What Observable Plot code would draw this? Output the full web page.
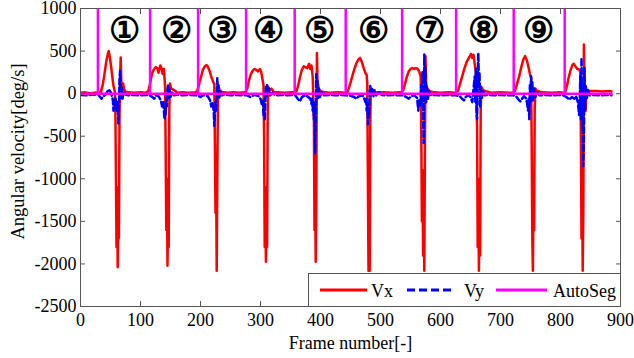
<!DOCTYPE html>
<html><head><meta charset="utf-8">
<script src="https://cdn.jsdelivr.net/npm/d3@7"></script>
<script src="https://cdn.jsdelivr.net/npm/@observablehq/plot@0.6"></script>
<style>
body{margin:0;background:#fff;}
#wrap{position:relative;width:634px;height:358px;overflow:hidden;}
#wrap svg text{font-family:'Liberation Serif',serif;}
#legend{position:absolute;left:308px;top:273px;width:312px;height:33px;border-left:1px solid #555;border-top:1px solid #555;background:#fff;box-sizing:border-box;}
#legend text{font-family:'Liberation Serif',serif;font-size:18px;fill:#000;}
</style></head><body><div id="wrap"></div>
<script>
// ---- data (frame, value) ----
const vx = [
[0,10],[8,15],[16,5],[24,12],[30,10],[34,20],[37,100],[40,230],[43,380],[46,480],[47,500],[49,420],[51,320],[53,200],[55,90],[57,30],[58,-100],[59,-900],[60,-1800],[61,-1100],[62,-2040],[63,-1400],[64,-1700],[65,-300],[66,200],[67,424],[68,150],[69,60],[71,120],[73,40],[76,20],[80,15],[90,10],[100,15],[108,10],
[113,30],[116,120],[119,230],[122,280],[125,310],[128,300],[130,245],[133,330],[135,300],[137,230],[139,290],[141,80],[142,-700],[143,-1600],[144,-1000],[145,-2020],[146,-1400],[147,-1800],[148,-200],[149,120],[151,60],[154,50],[158,30],[162,10],[170,15],[180,10],[190,12],
[192,15],[195,40],[198,120],[201,200],[204,280],[207,320],[210,335],[212,320],[215,270],[218,200],[221,140],[223,110],[224,-600],[225,-1400],[226,-900],[227,-2080],[228,-1000],[229,-100],[230,80],[232,40],[236,20],[245,10],[255,15],[265,10],[272,15],
[275,20],[278,60],[281,160],[284,230],[287,270],[290,290],[293,280],[296,260],[299,290],[301,260],[303,180],[305,100],[306,-500],[307,-1800],[308,-1100],[309,-1975],[310,-1500],[311,-1800],[312,-200],[313,80],[315,40],[318,60],[322,20],[330,15],[340,10],[352,15],
[356,15],[360,30],[363,100],[366,200],[369,280],[372,320],[375,310],[378,300],[381,350],[383,290],[385,330],[387,200],[389,-300],[390,-1600],[391,-1000],[392,-1975],[393,-1200],[394,478],[395,150],[397,60],[400,30],[405,20],[415,10],[430,15],[440,10],
[445,20],[448,80],[452,180],[456,280],[460,360],[463,400],[466,420],[469,370],[472,300],[475,240],[477,220],[478,100],[479,-1000],[480,-2080],[481,-1600],[482,-2080],[483,-300],[484,60],[486,40],[489,20],[495,10],[505,15],[520,10],[530,15],
[534,15],[538,40],[541,120],[544,200],[547,260],[550,290],[553,300],[556,290],[559,300],[562,290],[565,250],[567,200],[568,-500],[569,-1500],[570,-900],[571,-1900],[572,-1300],[573,-2080],[574,-700],[575,440],[576,120],[578,60],[582,30],[590,15],[600,10],[615,15],[623,10],
[629,30],[632,100],[636,200],[640,300],[644,380],[648,430],[651,466],[653,420],[655,455],[657,350],[659,250],[661,-400],[662,-1800],[663,-1000],[664,-2080],[665,-1400],[666,-1900],[667,-200],[668,80],[671,40],[675,30],[685,10],[700,15],[715,10],
[720,10],[724,30],[727,100],[731,200],[735,320],[738,400],[741,440],[744,390],[747,300],[749,230],[751,185],[752,-600],[753,-1700],[754,-2080],[755,-1200],[756,-1600],[757,-200],[758,60],[761,30],[770,15],[785,10],[800,15],[805,10],
[808,20],[811,100],[814,200],[817,280],[820,340],[822,350],[825,320],[828,290],[831,285],[833,250],[834,-500],[835,-1700],[836,-1000],[837,-2080],[838,-1400],[839,576],[840,100],[842,-200],[843,50],[846,30],[850,30],[860,30],[870,25],[880,30],[885,25]
];
const vy = [
[0,-15],[10,-20],[20,-10],[30,-15],[35,-60],[38,-30],[42,-10],[47,50],[50,20],[52,-20],[54,-80],[55,-200],[56,-100],[57,-150],[58,-40],[59,-100],[60,-200],[61,-100],[62,-150],[63,-350],[64,-120],[65,150],[66,270],[67,100],[68,-50],[69,80],[70,-60],[72,20],[75,-10],[80,-20],[90,-15],[100,-20],[110,-15],
[115,-20],[120,-40],[123,-60],[126,-20],[130,-30],[134,-80],[136,-150],[138,-100],[140,-300],[141,-180],[142,-250],[143,-60],[144,-150],[145,50],[146,100],[147,-50],[148,60],[150,-40],[153,20],[156,-20],[162,-10],[170,-20],[180,-15],[190,-20],
[195,-20],[200,-40],[205,-15],[212,-30],[216,-80],[218,-150],[220,-100],[222,-200],[223,-380],[224,-250],[225,-100],[226,-200],[227,0],[228,180],[229,50],[230,100],[231,-60],[233,40],[235,-20],[240,-10],[250,-20],[260,-15],[270,-20],
[278,-20],[283,-40],[290,-15],[297,-30],[300,-60],[302,-120],[304,-80],[305,-250],[306,-150],[307,-300],[308,-100],[309,80],[310,-50],[311,100],[312,30],[314,60],[316,-20],[320,10],[325,-20],[335,-15],[345,-20],[355,-15],
[358,-20],[362,-60],[366,-90],[369,-40],[374,-20],[378,-30],[383,-60],[385,-120],[386,-50],[387,-200],[388,-100],[389,-300],[390,-150],[391,-700],[392,-300],[393,230],[394,100],[395,150],[396,-50],[397,60],[399,-40],[402,20],[406,-20],[415,-15],[425,-20],[435,-15],
[442,-20],[450,-25],[456,-40],[460,-60],[464,-30],[470,-20],[473,-60],[475,-100],[476,-50],[477,-200],[478,-120],[479,-360],[480,-200],[481,-280],[482,60],[483,90],[484,-20],[486,60],[488,-40],[490,40],[493,-20],[497,30],[502,-15],[510,-20],[520,-15],[532,-20],
[538,-20],[543,-40],[547,-60],[551,-30],[556,-20],[561,-50],[563,-200],[564,-80],[566,-150],[567,-40],[568,100],[569,-100],[570,250],[571,-300],[572,-580],[573,460],[574,150],[575,300],[576,-100],[577,80],[579,-60],[581,30],[584,-20],[590,-15],[600,-20],[610,-15],[622,-20],
[626,-20],[632,-30],[636,-60],[639,-80],[642,-40],[646,-20],[650,-40],[653,-100],[655,50],[657,200],[658,-100],[659,300],[660,-200],[661,-300],[662,150],[663,478],[664,100],[665,250],[666,-150],[667,80],[669,-50],[671,40],[674,-20],[680,-15],[690,-20],[700,-15],[712,-20],
[722,-20],[727,-40],[730,-70],[733,-90],[736,-60],[739,-30],[742,-50],[744,-100],[746,-200],[747,-60],[748,-300],[749,100],[750,-100],[751,205],[752,40],[753,150],[754,-80],[756,60],[758,-40],[761,20],[765,-20],[775,-15],[785,-20],[795,-15],[805,-20],
[810,-40],[815,-70],[819,-40],[823,-60],[826,-30],[829,-100],[831,-250],[832,-100],[833,200],[834,-300],[835,420],[836,-400],[837,100],[838,-850],[839,-500],[840,300],[841,-200],[842,100],[844,-50],[846,40],[849,-20],[855,-15],[865,-20],[875,-15],[885,-20]
];
const segFrames = [29, 116, 196, 276, 357, 442, 536, 626, 722, 807];
const segPeak = 1000;
const lastFrame = 885;
const labelText = ["①","②","③","④","⑤","⑥","⑦","⑧","⑨"];
const labelFrame = [73, 160, 236, 313, 398, 488, 581, 671, 763];
const labelValue = 740;
const xTicks = [0,100,200,300,400,500,600,700,800,900];
const yTicks = [-2500,-2000,-1500,-1000,-500,0,500,1000];

// ---- build ----
const autoSeg = [[0,0]];
segFrames.forEach(f => autoSeg.push([f,0],[f,segPeak],[f,0]));
autoSeg.push([lastFrame,0]);
const labels = labelText.map((t,i) => ({t, f: labelFrame[i], v: labelValue}));

const axisCol = "#555";
const serif = "'Liberation Serif', serif";
const fmt = d => String(d);
const chart = Plot.plot({
  width: 634, height: 358,
  marginLeft: 80, marginRight: 14, marginTop: 8, marginBottom: 52,
  x: {domain: [0, 900]},
  y: {domain: [-2500, 1000]},
  style: {fontFamily: serif, fontSize: "18px", color: "#000", background: "#fff"},
  marks: [
    Plot.line(vx, {x: d => d[0], y: d => d[1], stroke: "#ff0000", strokeWidth: 2.5, clip: true}),
    Plot.line(vy, {x: d => d[0], y: d => d[1], stroke: "#0000ff", strokeWidth: 2.5, strokeDasharray: "6,3", clip: true}),
    Plot.line(autoSeg, {x: d => d[0], y: d => d[1], stroke: "#ff00ff", strokeWidth: 2.5, clip: true}),
    Plot.text(labels, {x: "f", y: "v", text: "t", fontSize: 35, fontFamily: "'Noto Sans CJK JP', sans-serif", fontWeight: "bold", fill: "#000"}),
    Plot.frame({stroke: axisCol}),
    Plot.axisX(xTicks, {anchor: "bottom", tickSize: 0, tickPadding: 7, tickFormat: fmt, label: null, fill: "#000", fontFamily: serif, fontSize: 18}),
    Plot.axisX(xTicks, {anchor: "bottom", tickSize: 5, dy: -5, tickFormat: () => "", label: null, stroke: axisCol}),
    Plot.axisX(xTicks, {anchor: "top", tickSize: 5, dy: 5, tickFormat: () => "", label: null, stroke: axisCol}),
    Plot.axisY(yTicks, {anchor: "left", tickSize: 0, tickPadding: 4, tickFormat: fmt, label: null, fill: "#000", fontFamily: serif, fontSize: 18}),
    Plot.axisY(yTicks, {anchor: "left", tickSize: 5, dx: 5, tickFormat: () => "", label: null, stroke: axisCol}),
    Plot.axisY(yTicks, {anchor: "right", tickSize: 5, dx: -5, tickFormat: () => "", label: null, stroke: axisCol}),
    Plot.text(["Frame number[-]"], {frameAnchor: "bottom", textAnchor: "middle", dy: 42, lineAnchor: "bottom", fontSize: 18, fontFamily: serif, fill: "#000"}),
    Plot.text(["Angular velocity[deg/s]"], {frameAnchor: "left", textAnchor: "middle", dx: -57, dy: -6, rotate: -90, lineAnchor: "bottom", fontSize: 18.5, fontFamily: serif, fill: "#000"})
  ]
});
const wrap = document.getElementById("wrap");
wrap.appendChild(chart);

const legend = document.createElement("div");
legend.id = "legend";
legend.innerHTML = `<svg width="312" height="33">
<line x1="11" x2="58" y1="16" y2="16" stroke="#ff0000" stroke-width="3"/>
<text x="62" y="23">Vx</text>
<line x1="98" x2="145" y1="16" y2="16" stroke="#0000ff" stroke-width="3" stroke-dasharray="8,4"/>
<text x="155" y="23">Vy</text>
<line x1="187" x2="238" y1="16" y2="16" stroke="#ff00ff" stroke-width="3"/>
<text x="244" y="23">AutoSeg</text>
</svg>`;
wrap.appendChild(legend);
</script>
</body></html>
